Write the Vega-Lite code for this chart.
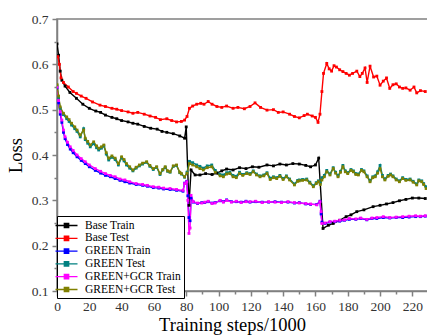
{
  "$schema": "https://vega.github.io/schema/vega-lite/v6.json",
  "width": 372,
  "height": 272,
  "autosize": {"type": "none"},
  "padding": {"left": 57, "top": 19, "right": 0, "bottom": 44},
  "config": {"view": {"stroke": "#808080", "strokeWidth": 1.5}, "font": "Liberation Serif"},
  "data": {"values": [
        {"series":"Base Train","step":0,"loss":0.645},{"series":"Base Train","step":1,"loss":0.62},{"series":"Base Train","step":2,"loss":0.585},{"series":"Base Train","step":3,"loss":0.565},{"series":"Base Train","step":5,"loss":0.552},{"series":"Base Train","step":8,"loss":0.538},{"series":"Base Train","step":12,"loss":0.525},{"series":"Base Train","step":16,"loss":0.512},{"series":"Base Train","step":20,"loss":0.503},{"series":"Base Train","step":24,"loss":0.497},{"series":"Base Train","step":27,"loss":0.494},{"series":"Base Train","step":30,"loss":0.488},{"series":"Base Train","step":34,"loss":0.483},{"series":"Base Train","step":37,"loss":0.48},{"series":"Base Train","step":40,"loss":0.476},{"series":"Base Train","step":44,"loss":0.473},{"series":"Base Train","step":47,"loss":0.47},{"series":"Base Train","step":50,"loss":0.468},{"series":"Base Train","step":54,"loss":0.463},{"series":"Base Train","step":58,"loss":0.459},{"series":"Base Train","step":62,"loss":0.457},{"series":"Base Train","step":65,"loss":0.452},{"series":"Base Train","step":68,"loss":0.45},{"series":"Base Train","step":72,"loss":0.447},{"series":"Base Train","step":76,"loss":0.442},{"series":"Base Train","step":79,"loss":0.437},{"series":"Base Train","step":80,"loss":0.462},{"series":"Base Train","step":81.7,"loss":0.289},{"series":"Base Train","step":83,"loss":0.367},{"series":"Base Train","step":85.5,"loss":0.356},{"series":"Base Train","step":88.5,"loss":0.356},{"series":"Base Train","step":92,"loss":0.359},{"series":"Base Train","step":96,"loss":0.357},{"series":"Base Train","step":99,"loss":0.36},{"series":"Base Train","step":102,"loss":0.365},{"series":"Base Train","step":105,"loss":0.369},{"series":"Base Train","step":109,"loss":0.367},{"series":"Base Train","step":113,"loss":0.372},{"series":"Base Train","step":117,"loss":0.37},{"series":"Base Train","step":121,"loss":0.374},{"series":"Base Train","step":125,"loss":0.373},{"series":"Base Train","step":130,"loss":0.378},{"series":"Base Train","step":134,"loss":0.376},{"series":"Base Train","step":138,"loss":0.38},{"series":"Base Train","step":142,"loss":0.378},{"series":"Base Train","step":146,"loss":0.381},{"series":"Base Train","step":150,"loss":0.38},{"series":"Base Train","step":154,"loss":0.377},{"series":"Base Train","step":157,"loss":0.374},{"series":"Base Train","step":160,"loss":0.378},{"series":"Base Train","step":162,"loss":0.393},{"series":"Base Train","step":164.7,"loss":0.238},{"series":"Base Train","step":168,"loss":0.245},{"series":"Base Train","step":171,"loss":0.249},{"series":"Base Train","step":175,"loss":0.256},{"series":"Base Train","step":179,"loss":0.264},{"series":"Base Train","step":182,"loss":0.268},{"series":"Base Train","step":185.6,"loss":0.275},{"series":"Base Train","step":190,"loss":0.279},{"series":"Base Train","step":195.7,"loss":0.286},{"series":"Base Train","step":200,"loss":0.289},{"series":"Base Train","step":204,"loss":0.292},{"series":"Base Train","step":208,"loss":0.295},{"series":"Base Train","step":212,"loss":0.299},{"series":"Base Train","step":216,"loss":0.302},{"series":"Base Train","step":220,"loss":0.305},{"series":"Base Train","step":224,"loss":0.305},{"series":"Base Train","step":228,"loss":0.304},

        {"series":"Base Test","step":0.5,"loss":0.617},{"series":"Base Test","step":1.5,"loss":0.6},{"series":"Base Test","step":2.5,"loss":0.57},{"series":"Base Test","step":4,"loss":0.56},{"series":"Base Test","step":7,"loss":0.55},{"series":"Base Test","step":10,"loss":0.54},{"series":"Base Test","step":12,"loss":0.536},{"series":"Base Test","step":15,"loss":0.53},{"series":"Base Test","step":18,"loss":0.525},{"series":"Base Test","step":22,"loss":0.517},{"series":"Base Test","step":26.6,"loss":0.51},{"series":"Base Test","step":30,"loss":0.507},{"series":"Base Test","step":34,"loss":0.503},{"series":"Base Test","step":37,"loss":0.501},{"series":"Base Test","step":40,"loss":0.498},{"series":"Base Test","step":44,"loss":0.495},{"series":"Base Test","step":47,"loss":0.492},{"series":"Base Test","step":50,"loss":0.494},{"series":"Base Test","step":54,"loss":0.49},{"series":"Base Test","step":57.6,"loss":0.486},{"series":"Base Test","step":61,"loss":0.483},{"series":"Base Test","step":64,"loss":0.478},{"series":"Base Test","step":68,"loss":0.48},{"series":"Base Test","step":71,"loss":0.476},{"series":"Base Test","step":74,"loss":0.473},{"series":"Base Test","step":77,"loss":0.474},{"series":"Base Test","step":79,"loss":0.477},{"series":"Base Test","step":80.5,"loss":0.485},{"series":"Base Test","step":82,"loss":0.503},{"series":"Base Test","step":84,"loss":0.508},{"series":"Base Test","step":86.5,"loss":0.512},{"series":"Base Test","step":89,"loss":0.514},{"series":"Base Test","step":91,"loss":0.512},{"series":"Base Test","step":93.6,"loss":0.518},{"series":"Base Test","step":96,"loss":0.512},{"series":"Base Test","step":99,"loss":0.507},{"series":"Base Test","step":102,"loss":0.505},{"series":"Base Test","step":105,"loss":0.508},{"series":"Base Test","step":109,"loss":0.503},{"series":"Base Test","step":112,"loss":0.505},{"series":"Base Test","step":116,"loss":0.502},{"series":"Base Test","step":119.5,"loss":0.507},{"series":"Base Test","step":122.6,"loss":0.515},{"series":"Base Test","step":126,"loss":0.505},{"series":"Base Test","step":130,"loss":0.499},{"series":"Base Test","step":134,"loss":0.5},{"series":"Base Test","step":137,"loss":0.494},{"series":"Base Test","step":140,"loss":0.495},{"series":"Base Test","step":144,"loss":0.49},{"series":"Base Test","step":147,"loss":0.485},{"series":"Base Test","step":150,"loss":0.482},{"series":"Base Test","step":153,"loss":0.487},{"series":"Base Test","step":155,"loss":0.49},{"series":"Base Test","step":158,"loss":0.486},{"series":"Base Test","step":160,"loss":0.483},{"series":"Base Test","step":161.6,"loss":0.472},{"series":"Base Test","step":162.8,"loss":0.49},{"series":"Base Test","step":164,"loss":0.54},{"series":"Base Test","step":165,"loss":0.58},{"series":"Base Test","step":167,"loss":0.602},{"series":"Base Test","step":168.5,"loss":0.59},{"series":"Base Test","step":170,"loss":0.585},{"series":"Base Test","step":171.5,"loss":0.597},{"series":"Base Test","step":173,"loss":0.594},{"series":"Base Test","step":175,"loss":0.588},{"series":"Base Test","step":177,"loss":0.584},{"series":"Base Test","step":179,"loss":0.58},{"series":"Base Test","step":181,"loss":0.576},{"series":"Base Test","step":183,"loss":0.58},{"series":"Base Test","step":185.6,"loss":0.585},{"series":"Base Test","step":187.5,"loss":0.573},{"series":"Base Test","step":189,"loss":0.58},{"series":"Base Test","step":190.7,"loss":0.592},{"series":"Base Test","step":192,"loss":0.56},{"series":"Base Test","step":193.8,"loss":0.596},{"series":"Base Test","step":196,"loss":0.572},{"series":"Base Test","step":198,"loss":0.574},{"series":"Base Test","step":200,"loss":0.554},{"series":"Base Test","step":202,"loss":0.563},{"series":"Base Test","step":204,"loss":0.57},{"series":"Base Test","step":206,"loss":0.547},{"series":"Base Test","step":208,"loss":0.555},{"series":"Base Test","step":210,"loss":0.557},{"series":"Base Test","step":212,"loss":0.55},{"series":"Base Test","step":214,"loss":0.547},{"series":"Base Test","step":216,"loss":0.548},{"series":"Base Test","step":218.6,"loss":0.543},{"series":"Base Test","step":221,"loss":0.55},{"series":"Base Test","step":222.7,"loss":0.537},{"series":"Base Test","step":225,"loss":0.542},{"series":"Base Test","step":228,"loss":0.54},

        {"series":"GREEN Train","step":0,"loss":0.548},{"series":"GREEN Train","step":1,"loss":0.515},{"series":"GREEN Train","step":2,"loss":0.49},{"series":"GREEN Train","step":3,"loss":0.472},{"series":"GREEN Train","step":4,"loss":0.45},{"series":"GREEN Train","step":5,"loss":0.436},{"series":"GREEN Train","step":6.5,"loss":0.423},{"series":"GREEN Train","step":8.2,"loss":0.413},{"series":"GREEN Train","step":10,"loss":0.405},{"series":"GREEN Train","step":12.4,"loss":0.396},{"series":"GREEN Train","step":15,"loss":0.388},{"series":"GREEN Train","step":17.5,"loss":0.381},{"series":"GREEN Train","step":20,"loss":0.374},{"series":"GREEN Train","step":23.7,"loss":0.366},{"series":"GREEN Train","step":27,"loss":0.36},{"series":"GREEN Train","step":30,"loss":0.355},{"series":"GREEN Train","step":33,"loss":0.352},{"series":"GREEN Train","step":36,"loss":0.348},{"series":"GREEN Train","step":39,"loss":0.344},{"series":"GREEN Train","step":42,"loss":0.341},{"series":"GREEN Train","step":45,"loss":0.338},{"series":"GREEN Train","step":49,"loss":0.335},{"series":"GREEN Train","step":53,"loss":0.333},{"series":"GREEN Train","step":56,"loss":0.331},{"series":"GREEN Train","step":59.6,"loss":0.328},{"series":"GREEN Train","step":63,"loss":0.327},{"series":"GREEN Train","step":66,"loss":0.325},{"series":"GREEN Train","step":70,"loss":0.324},{"series":"GREEN Train","step":74,"loss":0.322},{"series":"GREEN Train","step":78,"loss":0.32},{"series":"GREEN Train","step":79,"loss":0.338},{"series":"GREEN Train","step":80.3,"loss":0.342},{"series":"GREEN Train","step":81,"loss":0.31},{"series":"GREEN Train","step":81.7,"loss":0.262},{"series":"GREEN Train","step":82.4,"loss":0.255},{"series":"GREEN Train","step":83,"loss":0.305},{"series":"GREEN Train","step":84.4,"loss":0.296},{"series":"GREEN Train","step":87,"loss":0.293},{"series":"GREEN Train","step":89.6,"loss":0.295},{"series":"GREEN Train","step":91.5,"loss":0.295},{"series":"GREEN Train","step":93.6,"loss":0.297},{"series":"GREEN Train","step":96,"loss":0.294},{"series":"GREEN Train","step":97.8,"loss":0.295},{"series":"GREEN Train","step":101,"loss":0.299},{"series":"GREEN Train","step":103,"loss":0.297},{"series":"GREEN Train","step":105,"loss":0.301},{"series":"GREEN Train","step":108,"loss":0.297},{"series":"GREEN Train","step":111,"loss":0.297},{"series":"GREEN Train","step":114,"loss":0.296},{"series":"GREEN Train","step":117,"loss":0.298},{"series":"GREEN Train","step":119.5,"loss":0.296},{"series":"GREEN Train","step":123,"loss":0.297},{"series":"GREEN Train","step":127,"loss":0.296},{"series":"GREEN Train","step":131,"loss":0.296},{"series":"GREEN Train","step":135,"loss":0.297},{"series":"GREEN Train","step":139,"loss":0.296},{"series":"GREEN Train","step":143,"loss":0.296},{"series":"GREEN Train","step":147,"loss":0.294},{"series":"GREEN Train","step":150,"loss":0.295},{"series":"GREEN Train","step":154,"loss":0.292},{"series":"GREEN Train","step":157,"loss":0.291},{"series":"GREEN Train","step":160.8,"loss":0.291},{"series":"GREEN Train","step":162.8,"loss":0.298},{"series":"GREEN Train","step":163.5,"loss":0.27},{"series":"GREEN Train","step":164,"loss":0.252},{"series":"GREEN Train","step":166,"loss":0.249},{"series":"GREEN Train","step":169,"loss":0.252},{"series":"GREEN Train","step":172,"loss":0.253},{"series":"GREEN Train","step":175,"loss":0.254},{"series":"GREEN Train","step":178,"loss":0.256},{"series":"GREEN Train","step":181,"loss":0.258},{"series":"GREEN Train","step":185,"loss":0.258},{"series":"GREEN Train","step":188,"loss":0.26},{"series":"GREEN Train","step":191.8,"loss":0.257},{"series":"GREEN Train","step":195,"loss":0.26},{"series":"GREEN Train","step":198,"loss":0.26},{"series":"GREEN Train","step":202,"loss":0.262},{"series":"GREEN Train","step":206,"loss":0.261},{"series":"GREEN Train","step":210,"loss":0.262},{"series":"GREEN Train","step":214,"loss":0.262},{"series":"GREEN Train","step":218,"loss":0.263},{"series":"GREEN Train","step":222,"loss":0.264},{"series":"GREEN Train","step":225,"loss":0.264},{"series":"GREEN Train","step":228,"loss":0.265},

        {"series":"GREEN Test","step":0,"loss":0.553},{"series":"GREEN Test","step":1,"loss":0.527},{"series":"GREEN Test","step":2,"loss":0.503},{"series":"GREEN Test","step":4,"loss":0.489},{"series":"GREEN Test","step":6,"loss":0.48},{"series":"GREEN Test","step":7.5,"loss":0.474},{"series":"GREEN Test","step":9,"loss":0.466},{"series":"GREEN Test","step":11,"loss":0.458},{"series":"GREEN Test","step":12.4,"loss":0.452},{"series":"GREEN Test","step":14.4,"loss":0.44},{"series":"GREEN Test","step":16.5,"loss":0.458},{"series":"GREEN Test","step":17.5,"loss":0.434},{"series":"GREEN Test","step":19,"loss":0.426},{"series":"GREEN Test","step":20.6,"loss":0.418},{"series":"GREEN Test","step":22.7,"loss":0.425},{"series":"GREEN Test","step":24.5,"loss":0.416},{"series":"GREEN Test","step":25.8,"loss":0.411},{"series":"GREEN Test","step":27.5,"loss":0.415},{"series":"GREEN Test","step":29,"loss":0.42},{"series":"GREEN Test","step":30.5,"loss":0.402},{"series":"GREEN Test","step":32,"loss":0.389},{"series":"GREEN Test","step":34,"loss":0.395},{"series":"GREEN Test","step":36,"loss":0.39},{"series":"GREEN Test","step":38,"loss":0.378},{"series":"GREEN Test","step":40,"loss":0.394},{"series":"GREEN Test","step":41.5,"loss":0.387},{"series":"GREEN Test","step":43,"loss":0.378},{"series":"GREEN Test","step":45,"loss":0.371},{"series":"GREEN Test","step":47,"loss":0.365},{"series":"GREEN Test","step":49,"loss":0.371},{"series":"GREEN Test","step":51,"loss":0.376},{"series":"GREEN Test","step":53,"loss":0.38},{"series":"GREEN Test","step":55.5,"loss":0.384},{"series":"GREEN Test","step":57.5,"loss":0.375},{"series":"GREEN Test","step":59.6,"loss":0.368},{"series":"GREEN Test","step":61.7,"loss":0.373},{"series":"GREEN Test","step":63.8,"loss":0.357},{"series":"GREEN Test","step":65.5,"loss":0.367},{"series":"GREEN Test","step":67,"loss":0.373},{"series":"GREEN Test","step":68.5,"loss":0.364},{"series":"GREEN Test","step":70,"loss":0.362},{"series":"GREEN Test","step":72,"loss":0.375},{"series":"GREEN Test","step":74,"loss":0.377},{"series":"GREEN Test","step":76,"loss":0.361},{"series":"GREEN Test","step":77,"loss":0.358},{"series":"GREEN Test","step":79,"loss":0.351},{"series":"GREEN Test","step":80.5,"loss":0.362},{"series":"GREEN Test","step":82,"loss":0.386},{"series":"GREEN Test","step":84,"loss":0.383},{"series":"GREEN Test","step":86.5,"loss":0.378},{"series":"GREEN Test","step":88.5,"loss":0.375},{"series":"GREEN Test","step":90.6,"loss":0.371},{"series":"GREEN Test","step":93,"loss":0.376},{"series":"GREEN Test","step":95.8,"loss":0.378},{"series":"GREEN Test","step":98,"loss":0.366},{"series":"GREEN Test","step":101,"loss":0.357},{"series":"GREEN Test","step":103,"loss":0.356},{"series":"GREEN Test","step":105,"loss":0.361},{"series":"GREEN Test","step":107,"loss":0.362},{"series":"GREEN Test","step":109,"loss":0.355},{"series":"GREEN Test","step":111,"loss":0.353},{"series":"GREEN Test","step":113,"loss":0.362},{"series":"GREEN Test","step":115,"loss":0.357},{"series":"GREEN Test","step":117.5,"loss":0.361},{"series":"GREEN Test","step":119.5,"loss":0.359},{"series":"GREEN Test","step":121.5,"loss":0.365},{"series":"GREEN Test","step":123.5,"loss":0.358},{"series":"GREEN Test","step":125.7,"loss":0.354},{"series":"GREEN Test","step":128,"loss":0.356},{"series":"GREEN Test","step":130,"loss":0.361},{"series":"GREEN Test","step":132,"loss":0.349},{"series":"GREEN Test","step":134,"loss":0.352},{"series":"GREEN Test","step":136,"loss":0.35},{"series":"GREEN Test","step":138,"loss":0.355},{"series":"GREEN Test","step":140,"loss":0.348},{"series":"GREEN Test","step":142,"loss":0.354},{"series":"GREEN Test","step":144,"loss":0.347},{"series":"GREEN Test","step":147,"loss":0.336},{"series":"GREEN Test","step":149,"loss":0.344},{"series":"GREEN Test","step":150,"loss":0.345},{"series":"GREEN Test","step":152,"loss":0.346},{"series":"GREEN Test","step":154.6,"loss":0.347},{"series":"GREEN Test","step":156.5,"loss":0.34},{"series":"GREEN Test","step":158.7,"loss":0.332},{"series":"GREEN Test","step":160.5,"loss":0.339},{"series":"GREEN Test","step":161.8,"loss":0.343},{"series":"GREEN Test","step":163,"loss":0.338},{"series":"GREEN Test","step":164,"loss":0.35},{"series":"GREEN Test","step":165.5,"loss":0.355},{"series":"GREEN Test","step":167,"loss":0.366},{"series":"GREEN Test","step":169,"loss":0.358},{"series":"GREEN Test","step":171,"loss":0.372},{"series":"GREEN Test","step":172.5,"loss":0.362},{"series":"GREEN Test","step":174,"loss":0.354},{"series":"GREEN Test","step":175.5,"loss":0.364},{"series":"GREEN Test","step":177,"loss":0.377},{"series":"GREEN Test","step":178.5,"loss":0.365},{"series":"GREEN Test","step":180,"loss":0.361},{"series":"GREEN Test","step":182,"loss":0.368},{"series":"GREEN Test","step":183.5,"loss":0.365},{"series":"GREEN Test","step":185,"loss":0.359},{"series":"GREEN Test","step":186.6,"loss":0.358},{"series":"GREEN Test","step":188.5,"loss":0.368},{"series":"GREEN Test","step":190,"loss":0.365},{"series":"GREEN Test","step":192,"loss":0.354},{"series":"GREEN Test","step":193.8,"loss":0.343},{"series":"GREEN Test","step":195.5,"loss":0.352},{"series":"GREEN Test","step":197,"loss":0.354},{"series":"GREEN Test","step":198.5,"loss":0.363},{"series":"GREEN Test","step":200,"loss":0.377},{"series":"GREEN Test","step":201.5,"loss":0.355},{"series":"GREEN Test","step":203,"loss":0.347},{"series":"GREEN Test","step":205,"loss":0.355},{"series":"GREEN Test","step":206.5,"loss":0.358},{"series":"GREEN Test","step":208,"loss":0.354},{"series":"GREEN Test","step":210,"loss":0.347},{"series":"GREEN Test","step":212,"loss":0.343},{"series":"GREEN Test","step":214,"loss":0.35},{"series":"GREEN Test","step":216,"loss":0.346},{"series":"GREEN Test","step":218.6,"loss":0.347},{"series":"GREEN Test","step":220.5,"loss":0.342},{"series":"GREEN Test","step":222.7,"loss":0.336},{"series":"GREEN Test","step":224,"loss":0.345},{"series":"GREEN Test","step":225.8,"loss":0.343},{"series":"GREEN Test","step":227,"loss":0.337},{"series":"GREEN Test","step":228.5,"loss":0.33},

        {"series":"GREEN+GCR Train","step":0,"loss":0.55},{"series":"GREEN+GCR Train","step":1,"loss":0.52},{"series":"GREEN+GCR Train","step":2,"loss":0.495},{"series":"GREEN+GCR Train","step":3,"loss":0.477},{"series":"GREEN+GCR Train","step":4,"loss":0.455},{"series":"GREEN+GCR Train","step":5,"loss":0.44},{"series":"GREEN+GCR Train","step":6.5,"loss":0.428},{"series":"GREEN+GCR Train","step":8.2,"loss":0.418},{"series":"GREEN+GCR Train","step":10,"loss":0.41},{"series":"GREEN+GCR Train","step":12.4,"loss":0.4},{"series":"GREEN+GCR Train","step":15,"loss":0.392},{"series":"GREEN+GCR Train","step":17.5,"loss":0.385},{"series":"GREEN+GCR Train","step":20,"loss":0.378},{"series":"GREEN+GCR Train","step":23.7,"loss":0.37},{"series":"GREEN+GCR Train","step":27,"loss":0.364},{"series":"GREEN+GCR Train","step":30,"loss":0.359},{"series":"GREEN+GCR Train","step":33,"loss":0.355},{"series":"GREEN+GCR Train","step":36,"loss":0.352},{"series":"GREEN+GCR Train","step":39,"loss":0.347},{"series":"GREEN+GCR Train","step":42,"loss":0.345},{"series":"GREEN+GCR Train","step":45,"loss":0.341},{"series":"GREEN+GCR Train","step":49,"loss":0.337},{"series":"GREEN+GCR Train","step":53,"loss":0.335},{"series":"GREEN+GCR Train","step":56,"loss":0.333},{"series":"GREEN+GCR Train","step":59.6,"loss":0.33},{"series":"GREEN+GCR Train","step":63,"loss":0.329},{"series":"GREEN+GCR Train","step":66,"loss":0.327},{"series":"GREEN+GCR Train","step":70,"loss":0.326},{"series":"GREEN+GCR Train","step":74,"loss":0.324},{"series":"GREEN+GCR Train","step":78,"loss":0.322},{"series":"GREEN+GCR Train","step":79,"loss":0.337},{"series":"GREEN+GCR Train","step":80.3,"loss":0.341},{"series":"GREEN+GCR Train","step":81,"loss":0.3},{"series":"GREEN+GCR Train","step":81.7,"loss":0.227},{"series":"GREEN+GCR Train","step":82.4,"loss":0.239},{"series":"GREEN+GCR Train","step":83,"loss":0.311},{"series":"GREEN+GCR Train","step":84.4,"loss":0.297},{"series":"GREEN+GCR Train","step":87,"loss":0.294},{"series":"GREEN+GCR Train","step":89.6,"loss":0.294},{"series":"GREEN+GCR Train","step":91.5,"loss":0.296},{"series":"GREEN+GCR Train","step":93.6,"loss":0.298},{"series":"GREEN+GCR Train","step":96,"loss":0.293},{"series":"GREEN+GCR Train","step":97.8,"loss":0.294},{"series":"GREEN+GCR Train","step":101,"loss":0.3},{"series":"GREEN+GCR Train","step":103,"loss":0.296},{"series":"GREEN+GCR Train","step":105,"loss":0.3},{"series":"GREEN+GCR Train","step":108,"loss":0.296},{"series":"GREEN+GCR Train","step":111,"loss":0.298},{"series":"GREEN+GCR Train","step":114,"loss":0.295},{"series":"GREEN+GCR Train","step":117,"loss":0.297},{"series":"GREEN+GCR Train","step":119.5,"loss":0.297},{"series":"GREEN+GCR Train","step":123,"loss":0.298},{"series":"GREEN+GCR Train","step":127,"loss":0.295},{"series":"GREEN+GCR Train","step":131,"loss":0.297},{"series":"GREEN+GCR Train","step":135,"loss":0.296},{"series":"GREEN+GCR Train","step":139,"loss":0.295},{"series":"GREEN+GCR Train","step":143,"loss":0.297},{"series":"GREEN+GCR Train","step":147,"loss":0.295},{"series":"GREEN+GCR Train","step":150,"loss":0.294},{"series":"GREEN+GCR Train","step":154,"loss":0.293},{"series":"GREEN+GCR Train","step":157,"loss":0.292},{"series":"GREEN+GCR Train","step":160.8,"loss":0.29},{"series":"GREEN+GCR Train","step":162.8,"loss":0.297},{"series":"GREEN+GCR Train","step":163.5,"loss":0.275},{"series":"GREEN+GCR Train","step":164,"loss":0.249},{"series":"GREEN+GCR Train","step":166,"loss":0.25},{"series":"GREEN+GCR Train","step":169,"loss":0.253},{"series":"GREEN+GCR Train","step":172,"loss":0.254},{"series":"GREEN+GCR Train","step":175,"loss":0.256},{"series":"GREEN+GCR Train","step":178,"loss":0.257},{"series":"GREEN+GCR Train","step":181,"loss":0.26},{"series":"GREEN+GCR Train","step":185,"loss":0.259},{"series":"GREEN+GCR Train","step":188,"loss":0.261},{"series":"GREEN+GCR Train","step":191.8,"loss":0.258},{"series":"GREEN+GCR Train","step":195,"loss":0.261},{"series":"GREEN+GCR Train","step":198,"loss":0.262},{"series":"GREEN+GCR Train","step":202,"loss":0.264},{"series":"GREEN+GCR Train","step":206,"loss":0.262},{"series":"GREEN+GCR Train","step":210,"loss":0.263},{"series":"GREEN+GCR Train","step":214,"loss":0.264},{"series":"GREEN+GCR Train","step":218,"loss":0.265},{"series":"GREEN+GCR Train","step":222,"loss":0.266},{"series":"GREEN+GCR Train","step":225,"loss":0.265},{"series":"GREEN+GCR Train","step":228,"loss":0.266},

        {"series":"GREEN+GCR Test","step":0,"loss":0.555},{"series":"GREEN+GCR Test","step":1,"loss":0.53},{"series":"GREEN+GCR Test","step":2,"loss":0.506},{"series":"GREEN+GCR Test","step":4,"loss":0.492},{"series":"GREEN+GCR Test","step":6,"loss":0.484},{"series":"GREEN+GCR Test","step":7.5,"loss":0.478},{"series":"GREEN+GCR Test","step":9,"loss":0.47},{"series":"GREEN+GCR Test","step":11,"loss":0.462},{"series":"GREEN+GCR Test","step":12.4,"loss":0.455},{"series":"GREEN+GCR Test","step":14.4,"loss":0.444},{"series":"GREEN+GCR Test","step":16.5,"loss":0.455},{"series":"GREEN+GCR Test","step":17.5,"loss":0.437},{"series":"GREEN+GCR Test","step":19,"loss":0.43},{"series":"GREEN+GCR Test","step":20.6,"loss":0.422},{"series":"GREEN+GCR Test","step":22.7,"loss":0.429},{"series":"GREEN+GCR Test","step":24.5,"loss":0.42},{"series":"GREEN+GCR Test","step":25.8,"loss":0.415},{"series":"GREEN+GCR Test","step":27.5,"loss":0.418},{"series":"GREEN+GCR Test","step":29,"loss":0.422},{"series":"GREEN+GCR Test","step":30.5,"loss":0.405},{"series":"GREEN+GCR Test","step":32,"loss":0.393},{"series":"GREEN+GCR Test","step":34,"loss":0.398},{"series":"GREEN+GCR Test","step":36,"loss":0.393},{"series":"GREEN+GCR Test","step":38,"loss":0.381},{"series":"GREEN+GCR Test","step":40,"loss":0.396},{"series":"GREEN+GCR Test","step":41.5,"loss":0.39},{"series":"GREEN+GCR Test","step":43,"loss":0.381},{"series":"GREEN+GCR Test","step":45,"loss":0.374},{"series":"GREEN+GCR Test","step":47,"loss":0.367},{"series":"GREEN+GCR Test","step":49,"loss":0.373},{"series":"GREEN+GCR Test","step":51,"loss":0.378},{"series":"GREEN+GCR Test","step":53,"loss":0.382},{"series":"GREEN+GCR Test","step":55.5,"loss":0.385},{"series":"GREEN+GCR Test","step":57.5,"loss":0.377},{"series":"GREEN+GCR Test","step":59.6,"loss":0.37},{"series":"GREEN+GCR Test","step":61.7,"loss":0.374},{"series":"GREEN+GCR Test","step":63.8,"loss":0.359},{"series":"GREEN+GCR Test","step":65.5,"loss":0.368},{"series":"GREEN+GCR Test","step":67,"loss":0.374},{"series":"GREEN+GCR Test","step":68.5,"loss":0.365},{"series":"GREEN+GCR Test","step":70,"loss":0.363},{"series":"GREEN+GCR Test","step":72,"loss":0.376},{"series":"GREEN+GCR Test","step":74,"loss":0.378},{"series":"GREEN+GCR Test","step":76,"loss":0.362},{"series":"GREEN+GCR Test","step":77,"loss":0.359},{"series":"GREEN+GCR Test","step":79,"loss":0.352},{"series":"GREEN+GCR Test","step":80.5,"loss":0.36},{"series":"GREEN+GCR Test","step":82,"loss":0.381},{"series":"GREEN+GCR Test","step":84,"loss":0.378},{"series":"GREEN+GCR Test","step":86.5,"loss":0.374},{"series":"GREEN+GCR Test","step":88.5,"loss":0.37},{"series":"GREEN+GCR Test","step":90.6,"loss":0.367},{"series":"GREEN+GCR Test","step":93,"loss":0.372},{"series":"GREEN+GCR Test","step":95.8,"loss":0.374},{"series":"GREEN+GCR Test","step":98,"loss":0.362},{"series":"GREEN+GCR Test","step":101,"loss":0.354},{"series":"GREEN+GCR Test","step":103,"loss":0.352},{"series":"GREEN+GCR Test","step":105,"loss":0.358},{"series":"GREEN+GCR Test","step":107,"loss":0.359},{"series":"GREEN+GCR Test","step":109,"loss":0.352},{"series":"GREEN+GCR Test","step":111,"loss":0.35},{"series":"GREEN+GCR Test","step":113,"loss":0.359},{"series":"GREEN+GCR Test","step":115,"loss":0.355},{"series":"GREEN+GCR Test","step":117.5,"loss":0.359},{"series":"GREEN+GCR Test","step":119.5,"loss":0.357},{"series":"GREEN+GCR Test","step":121.5,"loss":0.363},{"series":"GREEN+GCR Test","step":123.5,"loss":0.356},{"series":"GREEN+GCR Test","step":125.7,"loss":0.352},{"series":"GREEN+GCR Test","step":128,"loss":0.354},{"series":"GREEN+GCR Test","step":130,"loss":0.359},{"series":"GREEN+GCR Test","step":132,"loss":0.346},{"series":"GREEN+GCR Test","step":134,"loss":0.35},{"series":"GREEN+GCR Test","step":136,"loss":0.348},{"series":"GREEN+GCR Test","step":138,"loss":0.353},{"series":"GREEN+GCR Test","step":140,"loss":0.346},{"series":"GREEN+GCR Test","step":142,"loss":0.352},{"series":"GREEN+GCR Test","step":144,"loss":0.345},{"series":"GREEN+GCR Test","step":147,"loss":0.334},{"series":"GREEN+GCR Test","step":149,"loss":0.342},{"series":"GREEN+GCR Test","step":150,"loss":0.343},{"series":"GREEN+GCR Test","step":152,"loss":0.344},{"series":"GREEN+GCR Test","step":154.6,"loss":0.345},{"series":"GREEN+GCR Test","step":156.5,"loss":0.338},{"series":"GREEN+GCR Test","step":158.7,"loss":0.33},{"series":"GREEN+GCR Test","step":160.5,"loss":0.337},{"series":"GREEN+GCR Test","step":161.8,"loss":0.341},{"series":"GREEN+GCR Test","step":163,"loss":0.335},{"series":"GREEN+GCR Test","step":164,"loss":0.345},{"series":"GREEN+GCR Test","step":165.5,"loss":0.352},{"series":"GREEN+GCR Test","step":167,"loss":0.363},{"series":"GREEN+GCR Test","step":169,"loss":0.356},{"series":"GREEN+GCR Test","step":171,"loss":0.37},{"series":"GREEN+GCR Test","step":172.5,"loss":0.36},{"series":"GREEN+GCR Test","step":174,"loss":0.352},{"series":"GREEN+GCR Test","step":175.5,"loss":0.362},{"series":"GREEN+GCR Test","step":177,"loss":0.374},{"series":"GREEN+GCR Test","step":178.5,"loss":0.363},{"series":"GREEN+GCR Test","step":180,"loss":0.359},{"series":"GREEN+GCR Test","step":182,"loss":0.366},{"series":"GREEN+GCR Test","step":183.5,"loss":0.363},{"series":"GREEN+GCR Test","step":185,"loss":0.357},{"series":"GREEN+GCR Test","step":186.6,"loss":0.356},{"series":"GREEN+GCR Test","step":188.5,"loss":0.366},{"series":"GREEN+GCR Test","step":190,"loss":0.363},{"series":"GREEN+GCR Test","step":192,"loss":0.352},{"series":"GREEN+GCR Test","step":193.8,"loss":0.341},{"series":"GREEN+GCR Test","step":195.5,"loss":0.35},{"series":"GREEN+GCR Test","step":197,"loss":0.352},{"series":"GREEN+GCR Test","step":198.5,"loss":0.36},{"series":"GREEN+GCR Test","step":200,"loss":0.37},{"series":"GREEN+GCR Test","step":201.5,"loss":0.352},{"series":"GREEN+GCR Test","step":203,"loss":0.345},{"series":"GREEN+GCR Test","step":205,"loss":0.353},{"series":"GREEN+GCR Test","step":206.5,"loss":0.356},{"series":"GREEN+GCR Test","step":208,"loss":0.352},{"series":"GREEN+GCR Test","step":210,"loss":0.345},{"series":"GREEN+GCR Test","step":212,"loss":0.341},{"series":"GREEN+GCR Test","step":214,"loss":0.348},{"series":"GREEN+GCR Test","step":216,"loss":0.344},{"series":"GREEN+GCR Test","step":218.6,"loss":0.345},{"series":"GREEN+GCR Test","step":220.5,"loss":0.34},{"series":"GREEN+GCR Test","step":222.7,"loss":0.334},{"series":"GREEN+GCR Test","step":224,"loss":0.343},{"series":"GREEN+GCR Test","step":225.8,"loss":0.341},{"series":"GREEN+GCR Test","step":227,"loss":0.335},{"series":"GREEN+GCR Test","step":228.5,"loss":0.326}
  ]},
  "mark": {"type": "line", "strokeWidth": 1.4, "clip": true, "point": {"filled": true, "shape": "square", "size": 8}},
  "encoding": {
    "x": {"field": "step", "type": "quantitative",
      "scale": {"domain": [0, 230.3], "nice": false, "zero": false},
      "axis": {"title": "Training steps/1000", "values": [0,10,20,30,40,50,60,70,80,90,100,110,120,130,140,150,160,170,180,190,200,210,220,230],
        "labelExpr": "datum.value % 20 === 0 ? datum.label : ''",
        "tickSize": {"condition": {"test": "datum.value % 20 !== 0", "value": 3}, "value": 5},
        "labelFlush": false, "grid": false, "domainColor": "#808080", "domainWidth": 1.5, "tickColor": "#808080", "tickWidth": 1.5,
        "labelFont": "Liberation Serif", "labelFontSize": 13.5, "labelColor": "#333333", "labelPadding": 3,
        "titleFont": "Liberation Serif", "titleFontSize": 18.5, "titleFontWeight": "normal", "titleColor": "#000000", "titlePadding": 3, "titleX": 175}},
    "y": {"field": "loss", "type": "quantitative",
      "scale": {"domain": [0.1, 0.7], "nice": false, "zero": false},
      "axis": {"title": "Loss", "values": [0.1,0.15,0.2,0.25,0.3,0.35,0.4,0.45,0.5,0.55,0.6,0.65,0.7],
        "labelExpr": "round(datum.value*100) % 10 === 0 ? format(datum.value, '.1f') : ''",
        "tickSize": {"condition": {"test": "round(datum.value*100) % 10 !== 0", "value": 3}, "value": 5},
        "grid": false, "domainColor": "#808080", "domainWidth": 1.5, "tickColor": "#808080", "tickWidth": 1.5,
        "labelFont": "Liberation Serif", "labelFontSize": 13.5, "labelColor": "#333333", "labelPadding": 4,
        "titleFont": "Liberation Serif", "titleFontSize": 18.5, "titleFontWeight": "normal", "titleColor": "#000000", "titlePadding": 6}},
    "color": {"field": "series", "type": "nominal",
      "scale": {"domain": ["Base Train","Base Test","GREEN Train","GREEN Test","GREEN+GCR Train","GREEN+GCR Test"],
                "range": ["#000000","#ff0000","#0000ff","#008080","#ff00ff","#808000"]},
      "legend": {"orient": "none", "legendX": 0, "legendY": 197, "title": null,
        "symbolType": "M-2,0H2M-0.4,-0.4H0.4V0.4H-0.4Z", "symbolSize": 121, "symbolStrokeWidth": 1.3,
        "labelOffset": 12, "labelFont": "Liberation Serif", "labelFontSize": 11.5, "labelColor": "#000000",
        "rowPadding": 0.8, "padding": 3, "strokeColor": "#000000", "fillColor": "#ffffff"}}
  }
}
